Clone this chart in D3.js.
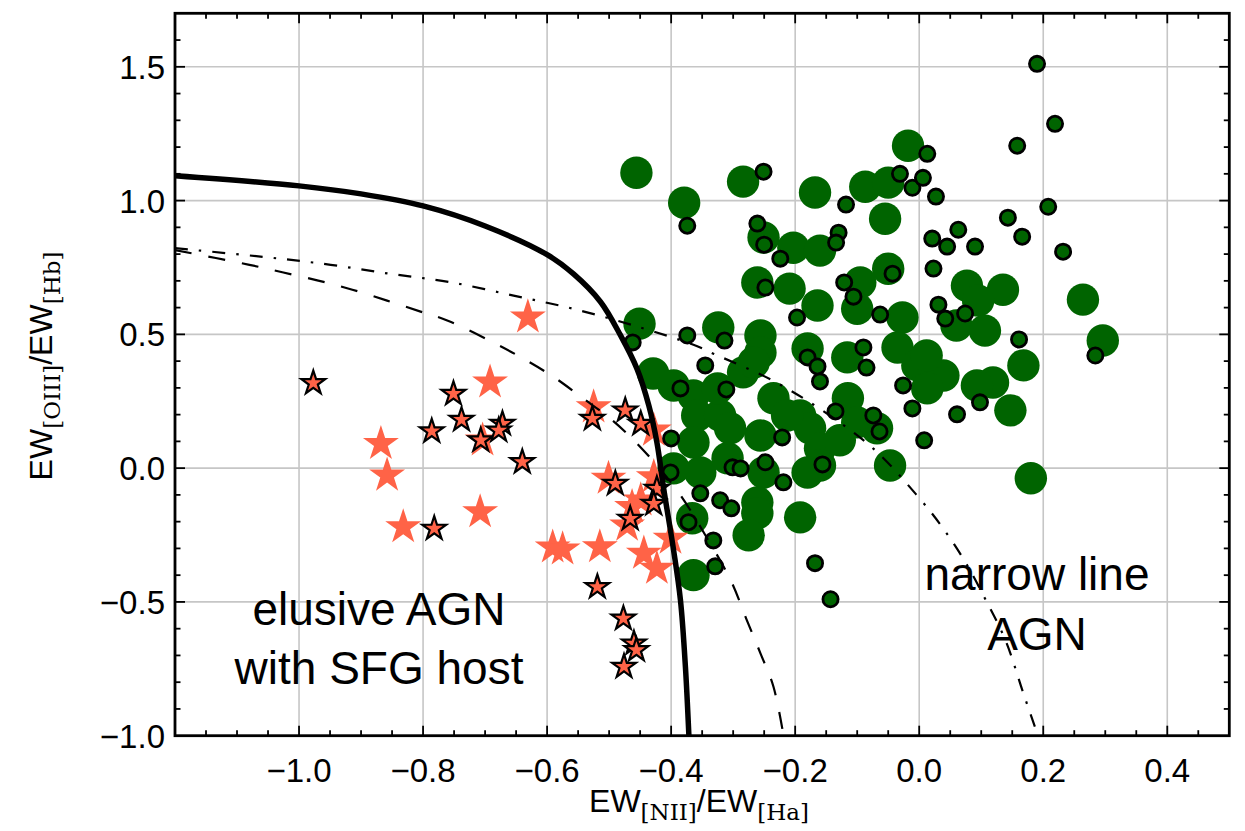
<!DOCTYPE html>
<html><head><meta charset="utf-8">
<script src="https://cdn.jsdelivr.net/npm/d3@7"></script>
<style>body{margin:0;background:#fff}svg{display:block}</style>
</head><body>
<svg id="c" width="1245" height="831"></svg>
<script>
// ---- data ----
const xTicks = [-1.0, -0.8, -0.6, -0.4, -0.2, 0.0, 0.2, 0.4];
const yTicks = [-1.0, -0.5, 0.0, 0.5, 1.0, 1.5];

// demarcation curves
const solidX = [-1.2, -1.0, -0.9, -0.8, -0.7, -0.6, -0.557, -0.514, -0.482, -0.455, -0.436, -0.423, -0.412, -0.396, -0.385, -0.377, -0.371];
const solidY = [1.093, 1.055, 1.025, 0.980, 0.905, 0.798, 0.725, 0.622, 0.498, 0.371, 0.234, 0.097, -0.077, -0.307, -0.493, -0.742, -1.02];
const dashedX = [-1.2, -1.08, -1.027, -0.969, -0.914, -0.858, -0.804, -0.761, -0.688, -0.638, -0.589, -0.541, -0.498, -0.460, -0.423, -0.385, -0.345, -0.304, -0.278, -0.256, -0.235, -0.218];
const dashedY = [0.815, 0.760, 0.732, 0.701, 0.667, 0.626, 0.585, 0.552, 0.471, 0.409, 0.340, 0.259, 0.185, 0.104, 0.010, -0.101, -0.25, -0.419, -0.568, -0.692, -0.817, -1.01];
const dashdotX = [-1.2, -1.051, -0.949, -0.852, -0.756, -0.654, -0.557, -0.460, -0.364, -0.331, -0.240, -0.154, -0.074, -0.005, 0.037, 0.074, 0.106, 0.139, 0.168, 0.193];
const dashdotY = [0.822, 0.788, 0.760, 0.726, 0.695, 0.645, 0.595, 0.533, 0.461, 0.427, 0.332, 0.212, 0.073, -0.098, -0.220, -0.350, -0.487, -0.643, -0.842, -1.01];

// narrow line AGN, large green circles
const nlX = [-0.456,-0.379,-0.284,-0.168,-0.087,-0.050,-0.018,-0.055,-0.251,-0.203,-0.160,-0.050,-0.261,-0.209,-0.164,-0.095,-0.100,-0.027,0.077,0.135,0.095,0.060,0.106,0.264,0.296,0.168,0.119,0.147,0.093,0.180,-0.451,-0.429,-0.396,-0.364,-0.358,-0.364,-0.396,-0.353,-0.324,-0.256,-0.256,-0.180,-0.116,-0.035,-0.003,0.039,0.013,-0.235,-0.192,-0.176,-0.160,-0.160,-0.115,-0.100,-0.068,-0.047,-0.256,-0.251,-0.309,-0.321,-0.305,-0.261,-0.261,-0.275,-0.192,-0.366,-0.364,-0.180,-0.284,-0.267,-0.213,-0.128,0.012,-0.325];
const nlY = [1.104,0.992,1.071,1.030,1.052,1.067,1.205,0.932,0.862,0.824,0.813,0.745,0.694,0.671,0.608,0.694,0.596,0.563,0.682,0.667,0.626,0.533,0.514,0.630,0.477,0.384,0.320,0.216,0.309,-0.038,0.540,0.354,0.309,0.272,0.197,0.096,-0.001,-0.016,0.526,0.496,0.432,0.447,0.414,0.451,0.384,0.346,0.298,0.261,0.197,0.149,0.074,0.010,0.261,0.171,0.149,0.010,0.122,-0.016,0.037,0.197,0.149,-0.128,-0.169,-0.251,-0.184,-0.187,-0.400,-0.016,0.358,0.395,0.197,0.104,0.421,0.298];

// narrow line AGN, small outlined circles
const nl2X = [-0.374,-0.251,-0.118,-0.031,-0.011,0.006,0.013,0.027,-0.261,-0.250,-0.224,-0.130,-0.134,0.021,0.045,0.063,0.090,0.190,0.219,0.158,0.208,0.143,0.166,0.232,0.161,0.284,0.098,-0.248,-0.121,-0.106,-0.043,-0.063,0.023,0.031,0.042,0.074,-0.197,-0.314,-0.180,-0.164,-0.160,-0.090,-0.085,-0.026,-0.011,0.008,0.061,-0.311,-0.221,-0.156,-0.135,-0.074,-0.064,-0.301,-0.288,-0.248,-0.219,-0.353,-0.321,-0.303,-0.332,-0.329,-0.168,-0.143,-0.372,-0.462,-0.374,-0.385,-0.345,-0.400,-0.401];
const nl2Y = [0.906,1.108,0.985,1.100,1.048,1.085,1.175,1.015,0.914,0.835,0.783,0.880,0.843,0.858,0.828,0.891,0.828,1.511,1.287,1.205,0.977,0.936,0.865,0.809,0.481,0.421,0.246,0.675,0.694,0.641,0.727,0.574,0.746,0.611,0.559,0.578,0.563,0.477,0.414,0.380,0.324,0.451,0.376,0.309,0.223,0.104,0.201,0.294,0.115,0.014,0.212,0.197,0.137,0.003,-0.001,0.022,-0.053,-0.094,-0.120,-0.150,-0.270,-0.367,-0.355,-0.490,-0.202,0.470,0.496,0.298,0.384,0.111,-0.016];

// elusive AGN, large stars
const elX = [-0.868,-0.858,-0.832,-0.631,-0.692,-0.704,-0.708,-0.591,-0.575,-0.515,-0.525,-0.428,-0.501,-0.428,-0.449,-0.463,-0.471,-0.444,-0.423,-0.401];
const elY = [0.091,-0.027,-0.220,0.564,0.321,0.104,-0.164,-0.296,-0.303,-0.295,0.228,0.141,-0.039,-0.033,-0.120,-0.145,-0.214,-0.319,-0.375,-0.263];

// elusive AGN, small outlined stars
const el2X = [-0.977,-0.786,-0.751,-0.738,-0.707,-0.672,-0.678,-0.640,-0.527,-0.474,-0.449,-0.490,-0.466,-0.782,-0.519,-0.477,-0.460,-0.456,-0.476,-0.423,-0.428];
const el2Y = [0.318,0.138,0.278,0.181,0.104,0.166,0.141,0.023,0.185,0.216,0.166,-0.058,-0.189,-0.226,-0.444,-0.562,-0.655,-0.680,-0.742,-0.077,-0.133];

// ---- drawing ----
const svg = d3.select('#c');
const L = 175, R = 1229.3, T = 13.3, B = 735.7;
const x = d3.scaleLinear().domain([-1.2, 0.5]).range([L, R]);
const y = d3.scaleLinear().domain([-1, 1.7]).range([B, T]);
const font = '"Liberation Sans", Arial, Helvetica, sans-serif';
const serif = '"DejaVu Serif", "Liberation Serif", serif';

svg.append('defs').append('clipPath').attr('id','clip')
  .append('rect').attr('x',L).attr('y',T).attr('width',R-L).attr('height',B-T);

// grid
const grid = svg.append('g');
grid.selectAll('line.gx').data(xTicks).join('line')
  .attr('x1',d=>x(d)).attr('x2',d=>x(d)).attr('y1',T).attr('y2',B)
  .attr('stroke','#c6c6c6').attr('stroke-width',1.6);
grid.selectAll('line.gy').data(yTicks).join('line')
  .attr('y1',d=>y(d)).attr('y2',d=>y(d)).attr('x1',L).attr('x2',R)
  .attr('stroke','#c6c6c6').attr('stroke-width',1.6);

const plot = svg.append('g').attr('clip-path','url(#clip)');
const green = '#006400', tomato = '#ff6347';

// large circles
plot.append('g').selectAll('circle').data(d3.range(nlX.length)).join('circle')
  .attr('cx',i=>x(nlX[i])).attr('cy',i=>y(nlY[i])).attr('r',16.2).attr('fill',green);
// large stars
const starBig = d3.symbol().type(d3.symbolStar).size(400);
const starSmall = d3.symbol().type(d3.symbolStar).size(175);
plot.append('g').selectAll('path').data(d3.range(elX.length)).join('path')
  .attr('d',starBig).attr('transform',i=>`translate(${x(elX[i])},${y(elY[i])})`).attr('fill',tomato);
// small outlined circles
plot.append('g').selectAll('circle').data(d3.range(nl2X.length)).join('circle')
  .attr('cx',i=>x(nl2X[i])).attr('cy',i=>y(nl2Y[i])).attr('r',7.6).attr('fill',green)
  .attr('stroke','#000').attr('stroke-width',2.8);
// small outlined stars
plot.append('g').selectAll('path').data(d3.range(el2X.length)).join('path')
  .attr('d',starSmall).attr('transform',i=>`translate(${x(el2X[i])},${y(el2Y[i])})`)
  .attr('fill',tomato).attr('stroke','#000').attr('stroke-width',2.2).attr('stroke-linejoin','miter');

// curves
const line = d3.line().x(d=>x(d[0])).y(d=>y(d[1])).curve(d3.curveCatmullRom.alpha(0.5));
plot.append('path').datum(solidX.map((v,i)=>[v,solidY[i]])).attr('d',line)
  .attr('fill','none').attr('stroke','#000').attr('stroke-width',5.5);
plot.append('path').datum(dashedX.map((v,i)=>[v,dashedY[i]])).attr('d',line)
  .attr('fill','none').attr('stroke','#000').attr('stroke-width',2.2).attr('stroke-dasharray','17,17');
plot.append('path').datum(dashdotX.map((v,i)=>[v,dashdotY[i]])).attr('d',line)
  .attr('fill','none').attr('stroke','#000').attr('stroke-width',2.2).attr('stroke-dasharray','13,11,2.5,11');

// ticks (inward, all sides)
const xMinor = d3.range(-1.15, 0.5, 0.05).map(v=>+v.toFixed(2));
const yMinor = d3.range(-0.9, 1.7, 0.1).map(v=>+v.toFixed(1));
const tk = svg.append('g').attr('stroke','#000').attr('stroke-width',1.8);
xMinor.forEach(v=>{
  const big = xTicks.some(t=>Math.abs(t-v)<1e-6); const len = big?10:5.5;
  tk.append('line').attr('x1',x(v)).attr('x2',x(v)).attr('y1',B).attr('y2',B-len);
  tk.append('line').attr('x1',x(v)).attr('x2',x(v)).attr('y1',T).attr('y2',T+len);
});
yMinor.forEach(v=>{
  const big = yTicks.some(t=>Math.abs(t-v)<1e-6); const len = big?10:5.5;
  tk.append('line').attr('y1',y(v)).attr('y2',y(v)).attr('x1',L).attr('x2',L+len);
  tk.append('line').attr('y1',y(v)).attr('y2',y(v)).attr('x1',R).attr('x2',R-len);
});

// frame
svg.append('rect').attr('x',L).attr('y',T).attr('width',R-L).attr('height',B-T)
  .attr('fill','none').attr('stroke','#000').attr('stroke-width',2.8);

const fmt = v => (v<0?'\u2212':'') + Math.abs(v).toFixed(1);
// tick labels
svg.append('g').selectAll('text').data(xTicks).join('text')
  .attr('x',d=>x(d)).attr('y',782).attr('text-anchor','middle')
  .attr('font-family',font).attr('font-size',33).text(fmt);
svg.append('g').selectAll('text').data(yTicks).join('text')
  .attr('x',165).attr('y',d=>y(d)+12).attr('text-anchor','end')
  .attr('font-family',font).attr('font-size',33).text(fmt);

// axis labels
function label(g, parts){
  const t = g.append('text').attr('font-family',font).attr('font-size',32).attr('text-anchor','middle');
  parts.forEach(p=>{
    if(p.sub){
      t.append('tspan').attr('font-family',serif).attr('font-size',23).attr('dy',8).text(p.t);
    } else {
      t.append('tspan').attr('dy',p.back?-8:0).text(p.t);
    }
  });
  return t;
}
const xl = svg.append('g').attr('transform','translate(699,812)');
label(xl,[{t:'EW'},{t:'[NII]',sub:true},{t:'/EW',back:true},{t:'[Ha]',sub:true}]);
const yl = svg.append('g').attr('transform','translate(52,366) rotate(-90)');
label(yl,[{t:'EW'},{t:'[OIII]',sub:true},{t:'/EW',back:true},{t:'[Hb]',sub:true}]);

// annotations
const ann = svg.append('g').attr('font-family',font).attr('font-size',46).attr('text-anchor','middle');
ann.append('text').attr('x',379).attr('y',625).text('elusive AGN');
ann.append('text').attr('x',379).attr('y',684).text('with SFG host');
ann.append('text').attr('x',1037).attr('y',590).text('narrow line');
ann.append('text').attr('x',1037).attr('y',650).text('AGN');
</script>
</body></html>
